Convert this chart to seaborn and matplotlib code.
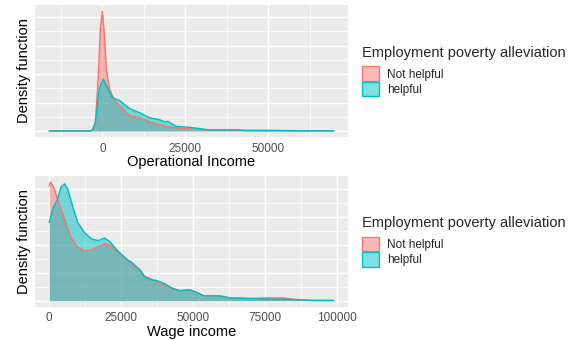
import numpy as np
import pandas as pd
import matplotlib
matplotlib.use("Agg")
import matplotlib.pyplot as plt
import seaborn as sns
from matplotlib.patches import Patch

groups = ["Not helpful", "helpful"]
colors = ["#F8766D", "#00BFC4"]
legend_title = "Employment poverty alleviation"

# Operational income, density values in units of 1e-5
op_x_not = [-16000, -3900, -3000, -2100, -1200, -600, 0, 600, 1200, 2100, 3600,
            5150, 8200, 11200, 14200, 17300, 19700, 22400, 26400, 32400, 40000,
            47600, 59700, 69700]
op_y_not = [0, 0, 0.09, 1.43, 9.82, 17.86, 21.07, 16.96, 10.71, 7.5, 5.36,
            4.46, 2.68, 2.32, 1.61, 1.07, 0.71, 0.54, 0.36, 0.18, 0.14,
            0.09, 0.05, 0.02]
op_x_help = [-16000, -3900, -3000, -2100, -900, 300, 1500, 3000, 4200, 5150, 6700,
             8200, 11200, 14200, 17300, 18800, 19700, 20900, 22400, 26400, 29400,
             32400, 38500, 40000, 43000, 50600, 59700, 69700]
op_y_help = [0, 0, 0.18, 1.43, 7.5, 9.11, 7.68, 5.89, 5.54, 5.36, 4.64,
             3.93, 3.21, 2.32, 1.96, 1.61, 1.7, 1.25, 0.8, 0.63, 0.41,
             0.18, 0.18, 0.23, 0.09, 0.09, 0.04, 0.04]

# Wage income, density values in units of 1e-5
wg_x_not = [0, 400, 1800, 2900, 4100, 5900, 7600, 9900, 12200, 14600, 16900,
            19200, 21000, 23800, 27300, 29700, 31400, 33200, 36100, 37200, 40100,
            43000, 45400, 48900, 51200, 53500, 59300, 62800, 69800, 74400, 81400,
            86100, 91800, 98800]
wg_y_not = [4.11, 4.25, 4.0, 3.64, 3.27, 2.73, 2.25, 1.92, 1.78, 1.82, 1.92,
            2.03, 2.0, 1.76, 1.45, 1.21, 1.12, 0.87, 0.75, 0.67, 0.55,
            0.43, 0.36, 0.39, 0.30, 0.18, 0.17, 0.10, 0.08, 0.10, 0.10,
            0.04, 0.01, 0.01]
wg_x_help = [0, 1200, 2900, 4100, 5300, 6400, 8200, 9900, 12200, 14600, 16900,
             19200, 21000, 23800, 27300, 28500, 29700, 31400, 33200, 36100, 37200,
             40100, 43000, 45400, 48900, 51200, 53500, 59300, 62800, 69800, 74400,
             81400, 86100, 91800, 98800]
wg_y_help = [2.8, 3.27, 3.64, 4.07, 4.18, 4.0, 3.35, 2.8, 2.44, 2.22, 2.15,
             2.24, 2.12, 1.78, 1.45, 1.39, 1.27, 1.12, 0.83, 0.73, 0.73,
             0.61, 0.43, 0.36, 0.39, 0.30, 0.18, 0.17, 0.10, 0.08, 0.06,
             0.05, 0.04, 0.01, 0.01]

sns.set_theme(style="darkgrid", rc={"axes.facecolor": "#EBEBEB",
                                    "grid.color": "white"})
plt.rcParams["font.family"] = ["Liberation Sans", "DejaVu Sans"]

W, H = 576, 340
fig = plt.figure(figsize=(W / 96, H / 96), dpi=96)
ax1 = fig.add_axes([35 / W, 1 - 137 / H, 313 / W, 132 / H])
ax2 = fig.add_axes([35 / W, 1 - 306.7 / H, 313 / W, 130.7 / H])


def draw_panel(ax, series, xlabel, ymajor):
    xs_all, ys_all = [], []
    for (x, y), c in zip(series, colors):
        y = np.array(y) * 1e-5
        ax.fill_between(x, y, color=c, alpha=0.5, lw=0)
        sns.lineplot(x=x, y=y, color=c, lw=1.1, ax=ax, estimator=None, sort=False)
        xs_all += list(x)
        ys_all += list(y)
    x0, x1 = min(xs_all), max(xs_all)
    pad = 0.05 * (x1 - x0)
    ymax = max(ys_all)

    xt = np.arange(-50000, 150001, 25000)
    ax.set_xticks(xt)
    ax.set_xticks(xt + 12500, minor=True)
    ax.set_xticklabels([str(v) for v in xt])
    yt = np.arange(0, 30) * ymajor
    ax.set_yticks(yt)
    ax.set_yticks(yt + ymajor / 2, minor=True)
    ax.set_yticklabels([])
    ax.set_xlim(x0 - pad, x1 + pad)
    ax.set_ylim(-0.05 * ymax, 1.05 * ymax)

    ax.grid(which="major", color="white", lw=1.1)
    ax.grid(which="minor", color="white", lw=0.55)
    ax.tick_params(which="major", length=2.75, width=0.8, color="#333333",
                   labelsize=8.8, labelcolor="#4D4D4D", pad=1.5)
    ax.tick_params(which="minor", length=0)
    for s in ax.spines.values():
        s.set_visible(False)
    ax.set_xlabel(xlabel, fontsize=11, color="black", labelpad=0.5)
    ax.set_ylabel("Density function", fontsize=11, color="black")
    ax.yaxis.set_label_coords(-0.012, 0.5)

    handles = [Patch(facecolor=matplotlib.colors.to_rgba(c, 0.5), edgecolor=c,
                     lw=1.0, label=g) for g, c in zip(groups, colors)]
    leg = ax.legend(handles=handles, title=legend_title, loc="center left",
                    bbox_to_anchor=((362 - 35) / 313, 0.5), frameon=False,
                    fontsize=8.8, title_fontsize=11, borderpad=0,
                    handlelength=1.45, handleheight=1.55, handletextpad=0.65,
                    labelspacing=0.05, borderaxespad=0, alignment="left")
    # a bit more room between the title and the keys, as ggplot does
    leg._legend_box.sep = 5


draw_panel(ax1, [(op_x_not, op_y_not), (op_x_help, op_y_help)],
           "Operational Income", 5e-5)
draw_panel(ax2, [(wg_x_not, wg_y_not), (wg_x_help, wg_y_help)],
           "Wage income", 1e-5)

fig.savefig("out.png", dpi=96)
